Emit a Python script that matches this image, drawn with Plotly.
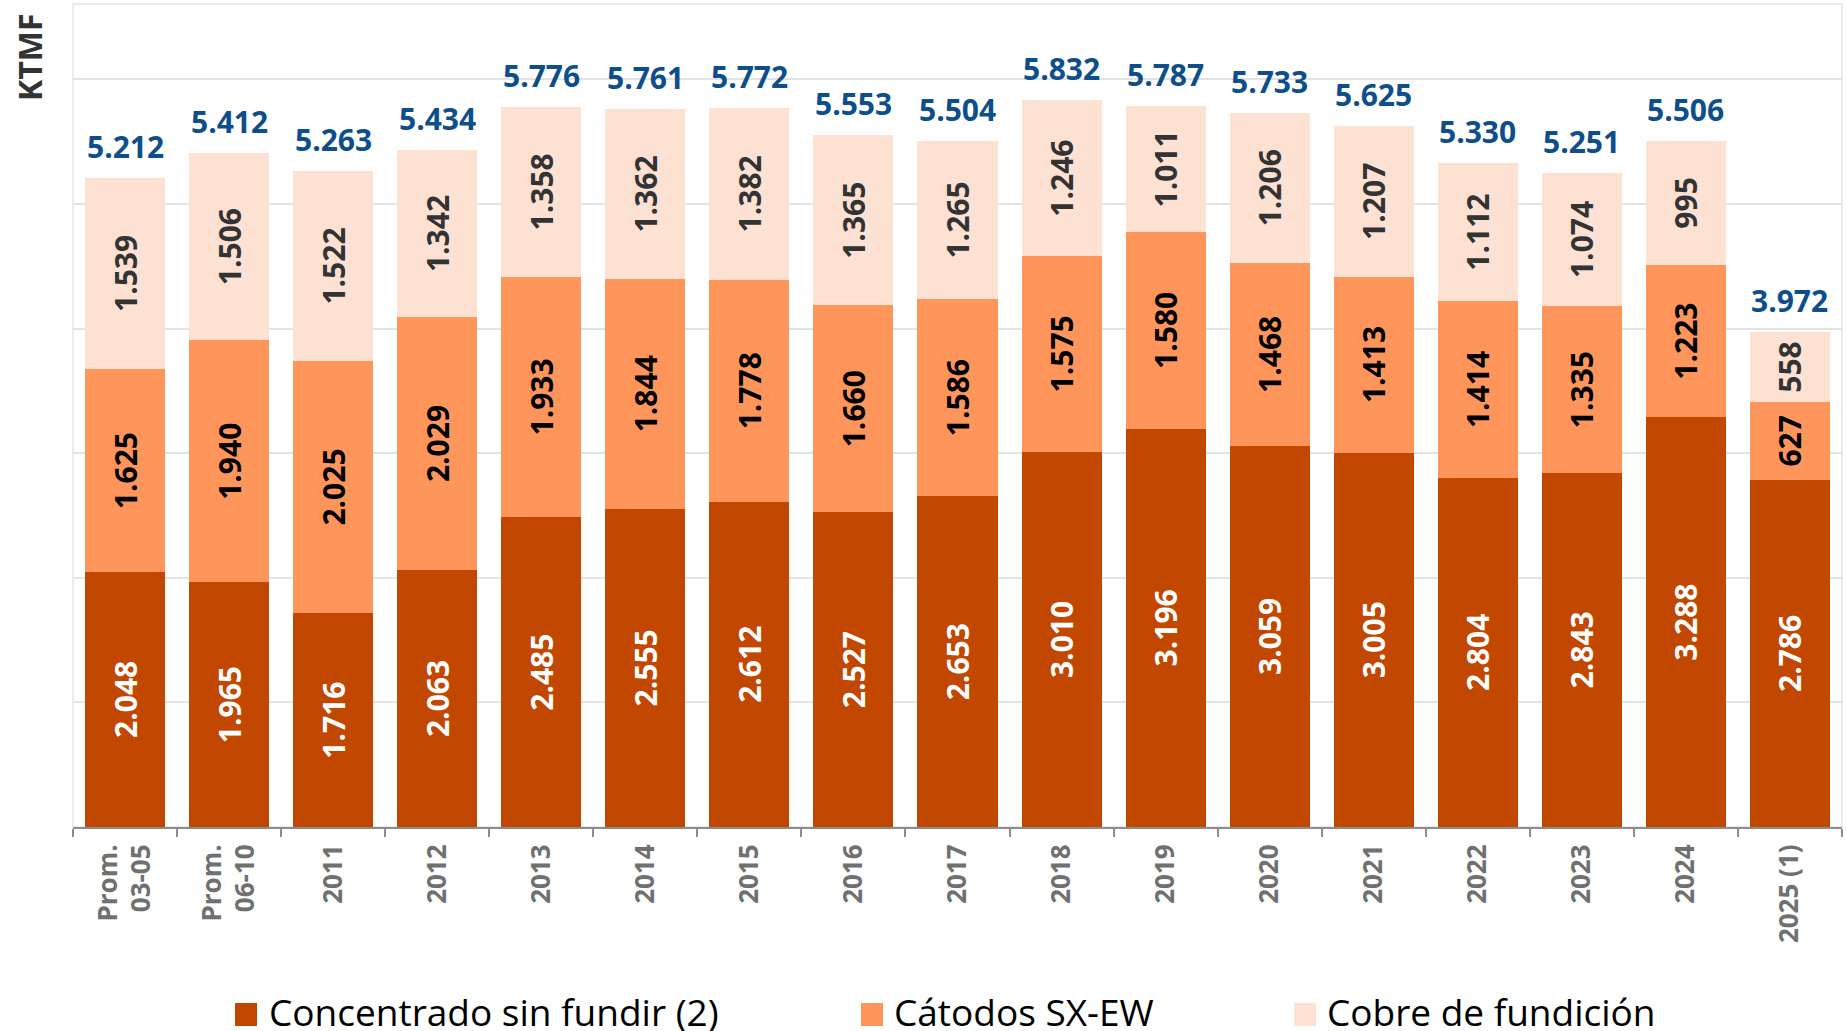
import plotly.graph_objects as go

categories = ["Prom.<br>03-05", "Prom.<br>06-10", "2011", "2012", "2013", "2014", "2015", "2016",
              "2017", "2018", "2019", "2020", "2021", "2022", "2023", "2024", "2025 (1)"]
concentrado = [2048, 1965, 1716, 2063, 2485, 2555, 2612, 2527, 2653, 3010, 3196, 3059, 3005, 2804, 2843, 3288, 2786]
catodos = [1625, 1940, 2025, 2029, 1933, 1844, 1778, 1660, 1586, 1575, 1580, 1468, 1413, 1414, 1335, 1223, 627]
fundicion = [1539, 1506, 1522, 1342, 1358, 1362, 1382, 1365, 1265, 1246, 1011, 1206, 1207, 1112, 1074, 995, 558]
totales = [5212, 5412, 5263, 5434, 5776, 5761, 5772, 5553, 5504, 5832, 5787, 5733, 5625, 5330, 5251, 5506, 3972]
series_names = ["Concentrado sin fundir (2)", "Cátodos SX-EW", "Cobre de fundición"]
y_title = "KTMF"

colors = ["#C24700", "#FE955B", "#FDE1D3"]
text_colors = ["#FFFFFF", "#000000", "#333333"]


def fmt(v):
    return f"{v:,}".replace(",", ".")


W, H = 1846, 1031
L, R, T, B = 73, 4, 4, 204
PW = W - L - R
PH = H - T - B


def px(x):
    return (x - L) / PW


def py(y):
    return (H - B - y) / PH


fig = go.Figure()
for name, vals, col, tcol in zip(series_names, [concentrado, catodos, fundicion], colors, text_colors):
    fig.add_trace(go.Bar(
        x=categories, y=vals, name=name,
        marker=dict(color=col, line=dict(width=0)),
        text=[fmt(v) for v in vals],
        textposition="inside", insidetextanchor="middle", textangle=-90,
        textfont=dict(size=30, color=tcol, family="Open Sans", weight="bold"),
        hoverinfo="skip", showlegend=False,
    ))

annotations = []
for i, t in enumerate(totales):
    annotations.append(dict(
        x=i, y=t, xref="x", yref="y", text=fmt(t), showarrow=False,
        yanchor="bottom", yshift=9,
        font=dict(size=30, color="#0D4E8B", family="Open Sans", weight="bold"),
    ))

annotations.append(dict(
    x=px(30), y=py(57), xref="paper", yref="paper", text=y_title, showarrow=False,
    textangle=-90, xanchor="center", yanchor="middle",
    font=dict(size=32, color="#333333", family="Open Sans", weight="bold"),
))

# legend (manual)
legend_sq_x = [235, 861, 1294]
legend_tx_x = [267, 892, 1325]
shapes = [dict(type="rect", xref="paper", yref="paper", x0=0, x1=1, y0=0, y1=1,
               line=dict(color="#E6E6E6", width=1.5), layer="below")]
for name, col, sx, tx in zip(series_names, colors, legend_sq_x, legend_tx_x):
    shapes.append(dict(type="rect", xref="paper", yref="paper",
                       x0=px(sx), x1=px(sx + 22), y0=py(1026), y1=py(1003),
                       fillcolor=col, line=dict(width=0)))
    annotations.append(dict(
        x=px(tx), y=py(1011), xref="paper", yref="paper", text=name, showarrow=False,
        xanchor="left", yanchor="middle",
        font=dict(size=37, color="#000000", family="Open Sans"),
    ))

fig.update_layout(
    width=W, height=H,
    margin=dict(l=L, r=R, t=T, b=B),
    barmode="stack", bargap=0.231,
    plot_bgcolor="white", paper_bgcolor="white",
    font=dict(family="Open Sans"),
    annotations=annotations, shapes=shapes,
    showlegend=False,
    xaxis=dict(type="category", range=[-0.5, len(categories) - 0.5], tickson="boundaries",
               ticks="outside", ticklen=8, ticklabelstandoff=5,
               tickwidth=2, tickcolor="#8C8C8C", showline=True, linecolor="#8C8C8C",
               linewidth=2, tickangle=-90, showgrid=False,
               tickfont=dict(size=26, color="#707070", family="Open Sans", weight="bold")),
    yaxis=dict(range=[0, 6605], dtick=1000, showticklabels=False, showgrid=True,
               gridcolor="#E3E3E3", gridwidth=1.5, zeroline=False, showline=False),
)

fig.write_html("out.html", config={"displayModeBar": False},
               post_script="document.body.style.margin='0';")
